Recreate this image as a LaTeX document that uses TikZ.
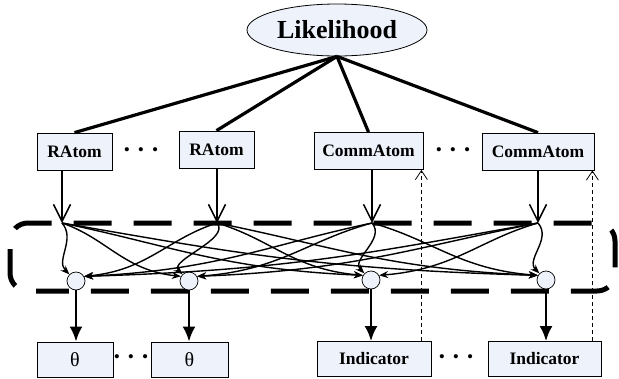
\documentclass[tikz,border=0pt]{standalone}
\usepackage{fontspec}
\setmainfont{Liberation Serif}
\usetikzlibrary{arrows.meta,shapes.geometric}
\definecolor{boxfill}{RGB}{238,242,251}
\newcommand{\bulletrow}{•\hspace{8pt}•\hspace{8pt}•}
\begin{document}
\begin{tikzpicture}[x=1pt, y=-1pt,
  atom/.style={draw, fill=boxfill, line width=0.8pt, inner sep=0pt, minimum height=37pt, font=\fontsize{17.5}{20}\selectfont\bfseries},
  var/.style={atom, minimum height=35pt},
  obs/.style={circle, draw, fill=boxfill, line width=0.7pt, minimum size=18pt, inner sep=0pt},
  dotsrow/.style={inner sep=0pt, font=\fontsize{17.5}{20}\selectfont},
  stem/.style={line width=3.2pt},
  feed/.style={line width=2pt, -{Straight Barb[length=17pt,width=17pt,line width=1.5pt]}},
  flow/.style={line width=1.4pt, -{Stealth[length=9pt,width=7pt]}},
  fat/.style={line width=2.5pt, -{Latex[length=15pt,width=13pt]}},
  fb/.style={line width=0.8pt, dash pattern=on 4pt off 3pt, -{Straight Barb[length=9pt,width=12pt]}},
  group/.style={line width=5pt, dash pattern=on 38pt off 22pt, rounded corners=18pt}]
\useasboundingbox (0,0) rectangle (619,378);
%\draw[very thin,color=gray] (0,0) grid[step=20] (619,378);

\node[ellipse, draw, fill=boxfill, line width=0.8pt, minimum width=180pt, minimum height=52pt, inner sep=0pt, font=\fontsize{26}{30}\selectfont\bfseries] (lik) at (337,30) {Likelihood};

% atoms
\node[atom, minimum width=75pt] (ra1) at (74.5,151.5) {RAtom};
\node[atom, minimum width=75pt] (ra2) at (216.5,149.5) {RAtom};
\node[atom, minimum width=109pt] (ca1) at (368.5,151) {CommAtom};
\node[atom, minimum width=112pt] (ca2) at (538,151.5) {CommAtom};
\node[dotsrow] (d1) at (141,152) {\bulletrow};
\node[dotsrow] (d2) at (453,152) {\bulletrow};

\draw[stem] (lik.south) -- (ra1.north);
\draw[stem] (lik.south) -- (ra2.north);
\draw[stem] (lik.south) -- (ca1.north);
\draw[stem] (lik.south) -- (ca2.north);

% parameters
\node[var, minimum width=76pt, font=\fontsize{20}{22}\selectfont] (th1) at (75,359.5) {θ};
\node[var, minimum width=77pt, font=\fontsize{20}{22}\selectfont] (th2) at (189.5,359.5) {θ};
\node[var, minimum width=114pt] (in1) at (374,359) {Indicator};
\node[var, minimum width=113pt] (in2) at (544.5,359) {Indicator};
\node[dotsrow] (d3) at (131,359) {\bulletrow};
\node[dotsrow] (d4) at (456,359) {\bulletrow};

\draw[group, dash phase=20pt] (72,291) -| (10,223) -| (615,291) -- cycle;

\coordinate (h1) at (62,223);
\coordinate (h2) at (217,223);
\coordinate (h3) at (372,223);
\coordinate (h4) at (538,223);
\draw[feed] (ra1.south -| h1) -- (h1);
\draw[feed] (ra2.south -| h2) -- (h2);
\draw[feed] (ca1.south -| h3) -- (h3);
\draw[feed] (ca2.south -| h4) -- (h4);

\node[obs] (c1) at (76,281) {};
\node[obs] (c2) at (189,281) {};
\node[obs] (c3) at (371,280) {};
\node[obs] (c4) at (546,280) {};

\foreach \i/\hx in {1/62,2/217,3/372,4/538}{
  \foreach \j/\cx in {1/76,2/189,3/371,4/546}{
    \ifnum\i=\j
      \draw[flow] (h\i) .. controls +(14,16) and +(-14,-14) .. (c\j.135);
    \else
      \pgfmathsetmacro{\dx}{\cx-\hx}
      \pgfmathtruncatemacro{\ang}{90+60*sign(\dx)}
      \draw[flow] (h\i) .. controls +({0.35*\dx},{10+0.04*abs(\dx)}) and +({-0.45*\dx},-6) .. (c\j.\ang);
    \fi
  }
}

\draw[fat] (c1.south) -- (c1.south |- th1.north);
\draw[fat] (c2.south) -- (c2.south |- th2.north);
\draw[fat] (c3.south) -- (c3.south |- in1.north);
\draw[fat] (c4.south) -- (c4.south |- in2.north);

\coordinate (u1) at ([xshift=-2pt]ca1.south east);
\coordinate (u2) at ([xshift=-2pt]ca2.south east);
\draw[fb] (in1.north -| u1) -- (u1);
\draw[fb] (in2.north -| u2) -- (u2);

\end{tikzpicture}
\end{document}
